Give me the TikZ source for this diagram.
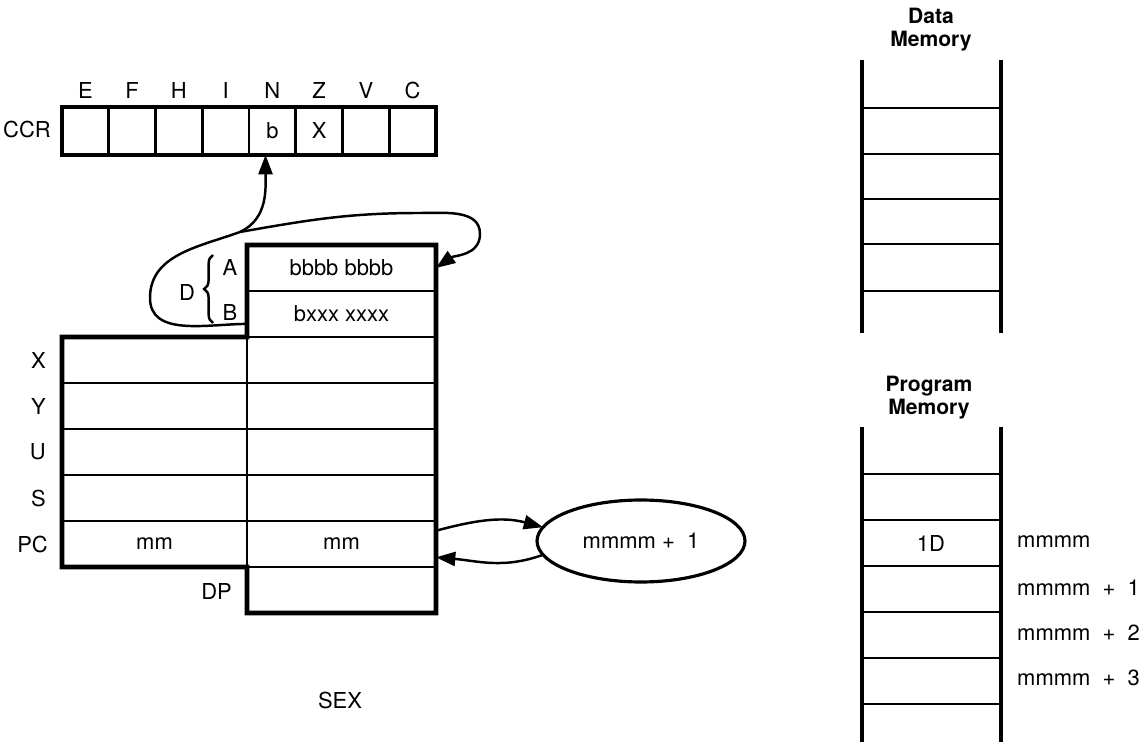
\documentclass[tikz,border=0pt]{standalone}
\usepackage{fontspec}
\setmainfont{TeX Gyre Heros}
\usetikzlibrary{shapes.geometric,arrows.meta,decorations.pathreplacing}
\pgfdeclarelayer{edgelayer}
\pgfdeclarelayer{nodelayer}
\pgfsetlayers{edgelayer,nodelayer,main}
\tikzstyle{flag}=[rectangle,draw=black,line width=1.5pt,inner sep=0pt,outer sep=0pt,minimum width=0.935cm,minimum height=0.96cm]
\tikzstyle{regr}=[rectangle,draw=black,line width=1.5pt,inner sep=0pt,outer sep=0pt,minimum width=3.78cm,minimum height=0.92cm]
\tikzstyle{regl}=[regr,minimum width=3.7cm]
\tikzstyle{bubble}=[ellipse,draw=black,line width=1.8pt,inner sep=0pt,outer sep=0pt,minimum width=4.16cm,minimum height=1.64cm]
\tikzstyle{outline}=[draw=black,line width=2.8pt]
\tikzstyle{wire}=[draw=black,line width=1.4pt]
\tikzstyle{flow}=[wire,-{Triangle[length=11pt,width=8pt]}]
\tikzstyle{rail}=[draw=black,line width=2.8pt]
\tikzstyle{rung}=[draw=black,line width=1.5pt]
\tikzstyle{heading}=[align=center,font=\bfseries\fontsize{12}{13}\selectfont]

\begin{document}
\begin{tikzpicture}[x=0.02cm,y=-0.02cm,font=\fontsize{12.5}{14}\selectfont]
\useasboundingbox (0,0) rectangle (1142,742);
	\begin{pgfonlayer}{nodelayer}
		% condition code register
		\node (ccr) at (27,130) {CCR};
		\node [style=flag] (E) at (85.4,131) {};
		\node [style=flag] (F) at (132.1,131) {};
		\node [style=flag] (H) at (178.9,131) {};
		\node [style=flag] (I) at (225.6,131) {};
		\node [style=flag] (N) at (272.4,131) {b};
		\node [style=flag] (Z) at (319.1,131) {X};
		\node [style=flag] (V) at (365.9,131) {};
		\node [style=flag] (C) at (412.6,131) {};
		\node [anchor=south] (tE) at (85.4,105) {E};
		\node [anchor=south] (tF) at (132.1,105) {F};
		\node [anchor=south] (tH) at (178.9,105) {H};
		\node [anchor=south] (tI) at (225.6,105) {I};
		\node [anchor=south] (tN) at (272.4,105) {N};
		\node [anchor=south] (tZ) at (319.1,105) {Z};
		\node [anchor=south] (tV) at (365.9,105) {V};
		\node [anchor=south] (tC) at (412.6,105) {C};
		% registers
		\node [style=regr] (A) at (341.5,268) {bbbb bbbb};
		\node [style=regr] (B) at (341.5,314) {bxxx xxxx};
		\node [style=regr] (Xr) at (341.5,360) {};
		\node [style=regr] (Yr) at (341.5,406) {};
		\node [style=regr] (Ur) at (341.5,452) {};
		\node [style=regr] (Sr) at (341.5,498) {};
		\node [style=regr] (PCr) at (341.5,544) {mm};
		\node [style=regr] (DP) at (341.5,590) {};
		\node [style=regl] (Xl) at (154.5,360) {};
		\node [style=regl] (Yl) at (154.5,406) {};
		\node [style=regl] (Ul) at (154.5,452) {};
		\node [style=regl] (Sl) at (154.5,498) {};
		\node [style=regl] (PCl) at (154.5,544) {mm};
		\node (tA) at (230,268) {A};
		\node (tB) at (230,312) {B};
		\node (tD) at (187,292) {D};
		\node [anchor=east] (tX) at (52,360) {X};
		\node [anchor=east] (tY) at (52,406) {Y};
		\node [anchor=east] (tU) at (52,452) {U};
		\node [anchor=east] (tS) at (52,498) {S};
		\node [anchor=east] (tPC) at (54,544) {PC};
		\node [anchor=east] (tDP) at (238,591) {DP};
		\node [style=bubble,fill=white] (ptr) at (641,541) {mmmm\ +\ \ 1};
		\node (sex) at (340,700) {SEX};
		% memories
		\node [style=heading] (dmem) at (931,30) {Data\\Memory};
		\node [style=heading] (pmem) at (929,398) {Program\\Memory};
		\node (op) at (931,543) {1D};
		\node [anchor=west] (m0) at (1011,542) {mmmm};
		\node [anchor=west] (m1) at (1011,588) {mmmm\ \ +\ \ 1};
		\node [anchor=west] (m2) at (1011,633) {mmmm\ \ +\ \ 2};
		\node [anchor=west] (m3) at (1011,678) {mmmm\ \ +\ \ 3};
	\end{pgfonlayer}
	\coordinate (loopL) at (150,298);
	\coordinate (split) at (240,232);
	\coordinate (loopT) at (420,213);
	\coordinate (loopR) at (480,234);
	\begin{pgfonlayer}{edgelayer}
		\draw [style=wire] (B.186) to[out=180,in=-90] (loopL) to[out=90,in=200] (split);
		\draw [style=flow] (split) to[out=25,in=-90] (N.-106);
		\draw [style=flow] (split) to[out=10,in=180] (loopT) to[out=0,in=90] (loopR) to[out=-90,in=35] (A.east);
		\draw [style=flow] (PCr.8) to[out=15,in=165] (ptr.172);
		\draw [style=flow] (ptr.188) to[out=200,in=-5] (PCr.-8);
		\draw [style=wire,decorate,decoration={brace,amplitude=5pt}] (213,323) -- (213,255);
	\end{pgfonlayer}
	\draw [style=outline] (E.north west) rectangle (C.south east);
	\draw [style=outline] (Xl.north west) -- (B.south west) -- (A.north west) -- (A.north east) -- (DP.south east) -- (DP.south west) -- (PCl.south east) -- (PCl.south west) -- cycle;
	\draw [style=rail] (862,60) -- (862,333);
	\draw [style=rail] (1001,60) -- (1001,333);
	\draw [style=rung] (862,108) -- (1001,108);
	\draw [style=rung] (862,154) -- (1001,154);
	\draw [style=rung] (862,199) -- (1001,199);
	\draw [style=rung] (862,244) -- (1001,244);
	\draw [style=rung] (862,291) -- (1001,291);
	\draw [style=rail] (862,427) -- (862,742);
	\draw [style=rail] (1001,427) -- (1001,742);
	\draw [style=rung] (862,474) -- (1001,474);
	\draw [style=rung] (862,520) -- (1001,520);
	\draw [style=rung] (862,566) -- (1001,566);
	\draw [style=rung] (862,612) -- (1001,612);
	\draw [style=rung] (862,658) -- (1001,658);
	\draw [style=rung] (862,704) -- (1001,704);
\end{tikzpicture}
\end{document}
